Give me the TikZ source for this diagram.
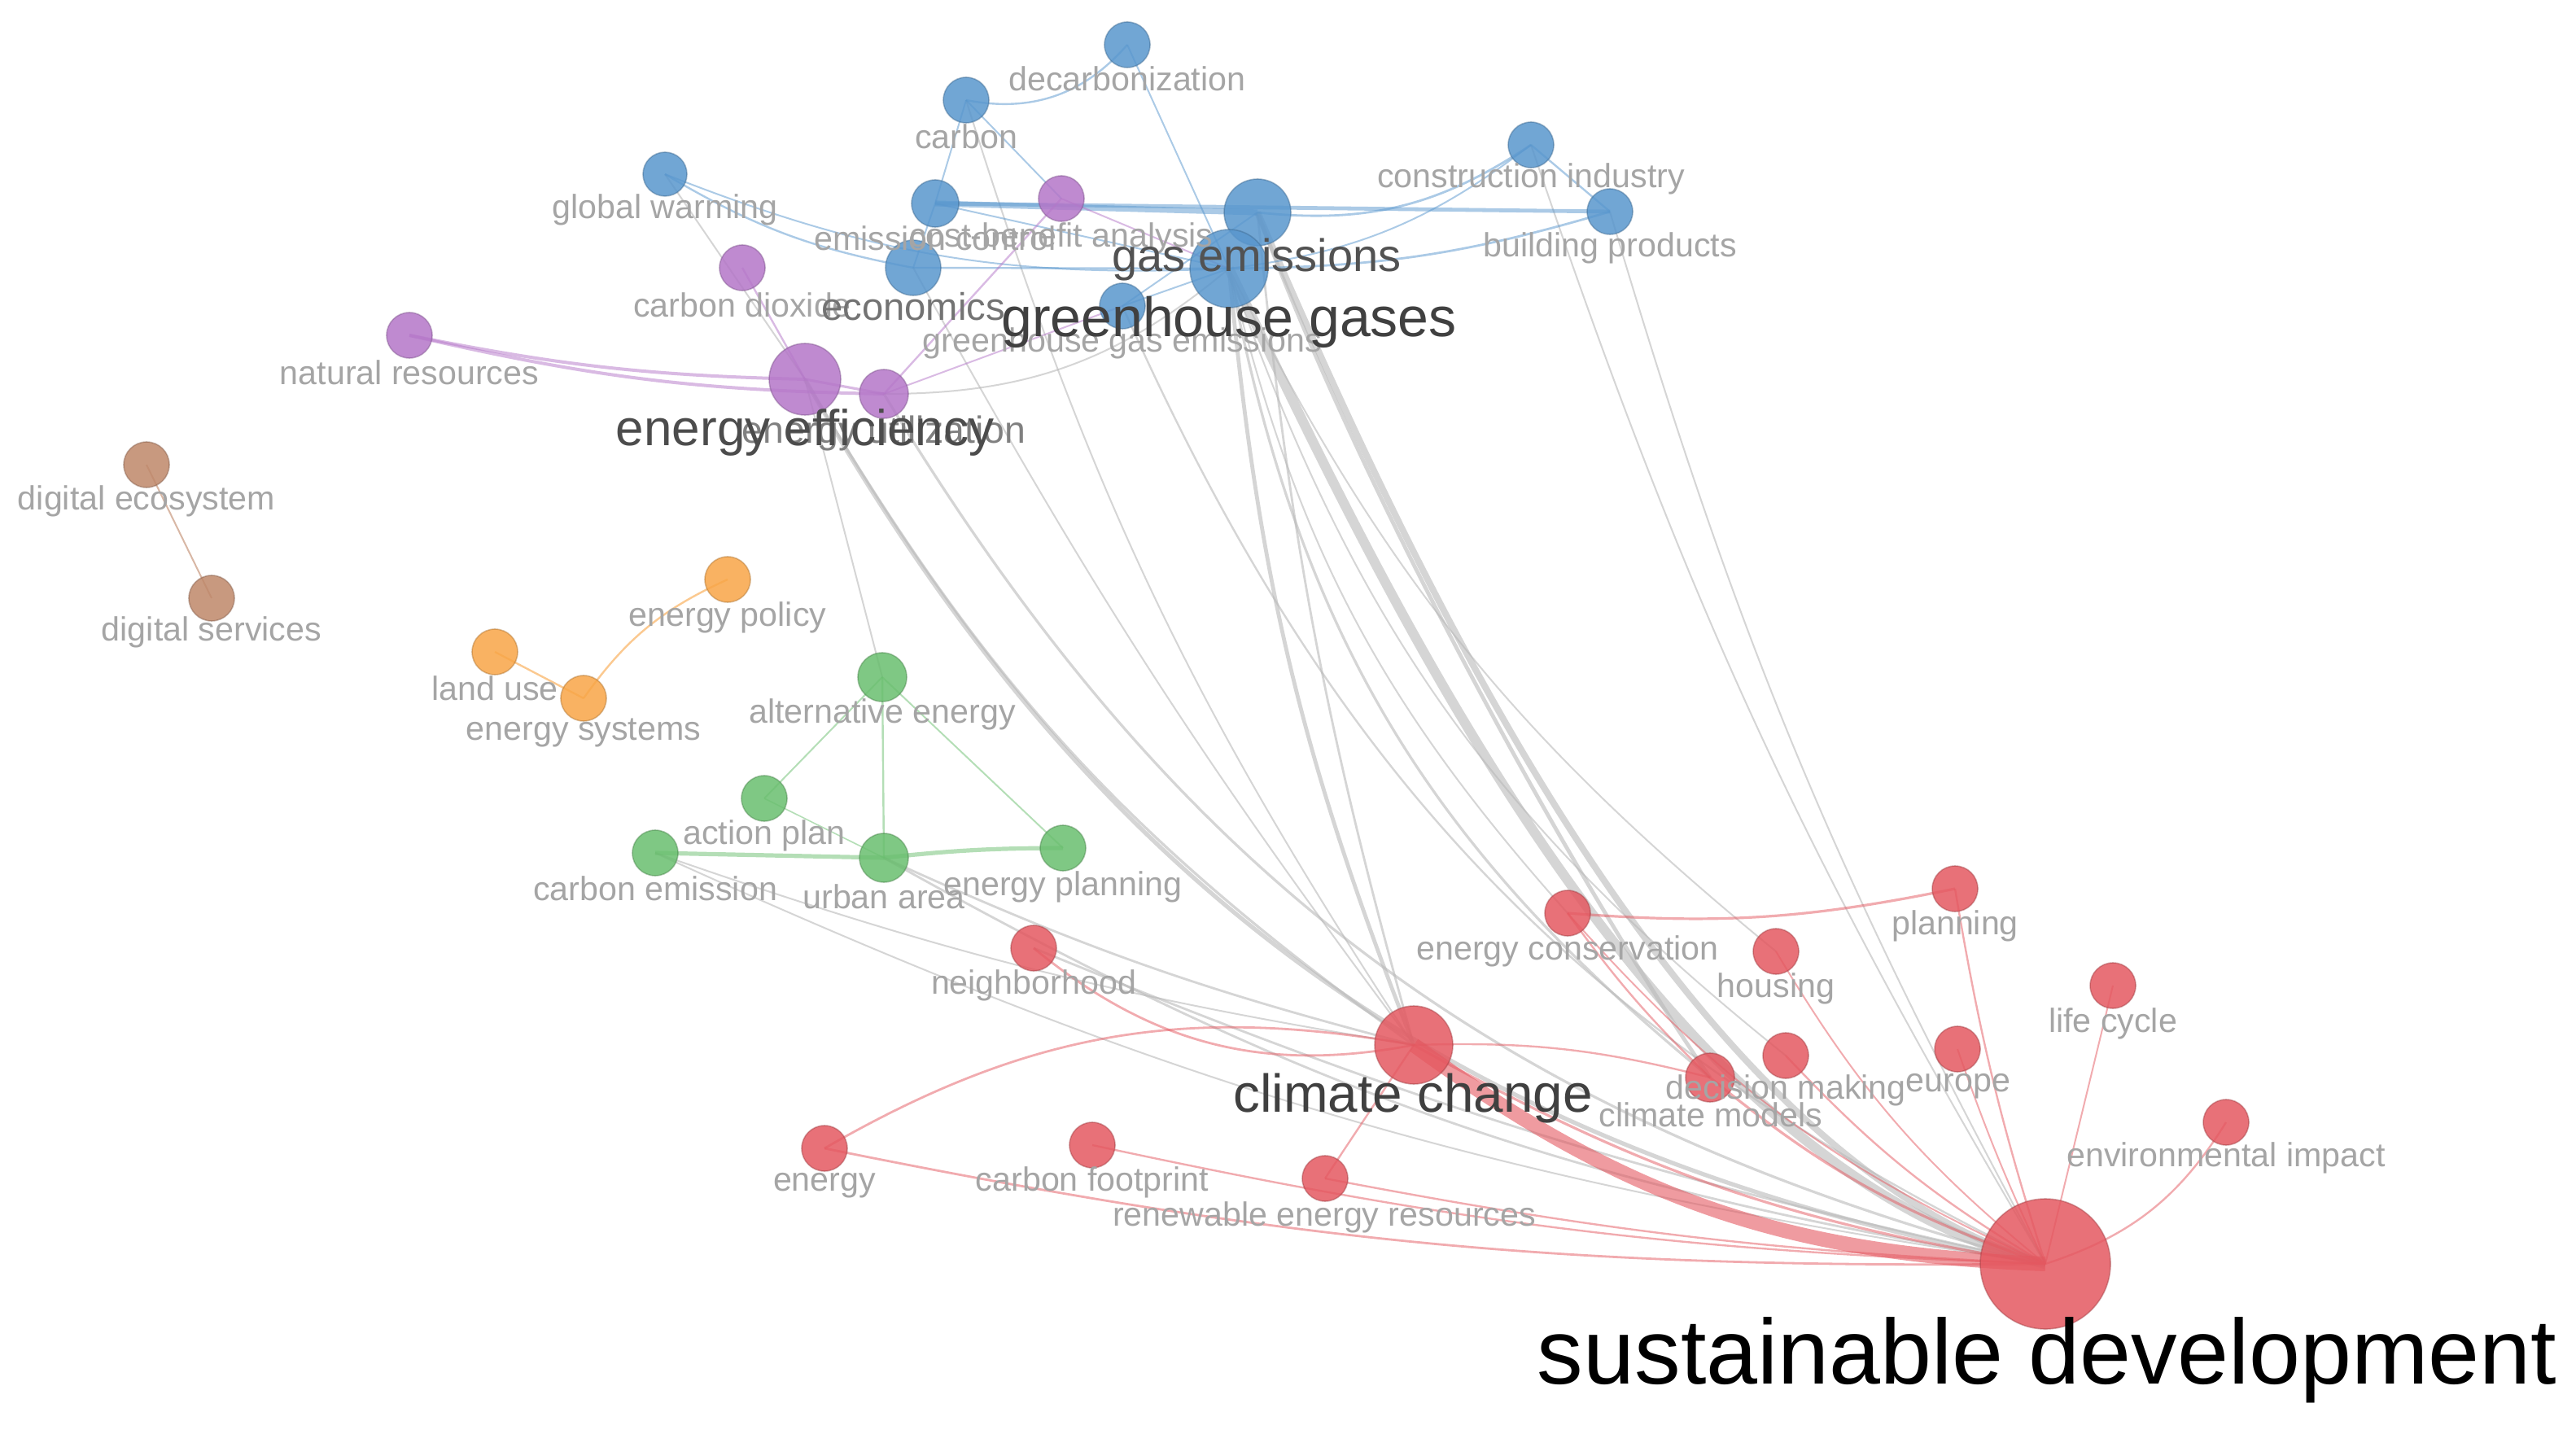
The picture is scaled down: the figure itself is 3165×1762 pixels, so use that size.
\documentclass[tikz,border=0pt]{standalone}
\usepackage{fontspec}
\setmainfont{Liberation Sans}
\pgfdeclarelayer{edges}
\pgfsetlayers{edges,main}
\definecolor{cblue}{RGB}{88,150,205}
\definecolor{cpurp}{RGB}{180,118,200}
\definecolor{cbrown}{RGB}{190,135,105}
\definecolor{corange}{RGB}{248,165,70}
\definecolor{cgreen}{RGB}{105,190,110}
\definecolor{cred}{RGB}{228,88,96}
\definecolor{cedge}{RGB}{185,185,185}
\definecolor{ltxt}{RGB}{165,165,165}
\tikzset{
  kw/.style={circle, inner sep=0pt, minimum size=#1, line width=0.4pt, fill opacity=0.85, draw opacity=0.45},
  kb/.style={kw=#1, fill=cblue, draw=cblue!70!black},
  kp/.style={kw=#1, fill=cpurp, draw=cpurp!70!black},
  kbr/.style={kw=#1, fill=cbrown, draw=cbrown!70!black},
  ko/.style={kw=#1, fill=corange, draw=corange!70!black},
  kg/.style={kw=#1, fill=cgreen, draw=cgreen!70!black},
  kr/.style={kw=#1, fill=cred, draw=cred!70!black},
  lab/.style={inner sep=0pt, text=ltxt, font=\fontsize{10.3}{12}\selectfont},
  labm/.style={inner sep=0pt, text=black!55, font=\fontsize{11.8}{14}\selectfont},
  eg/.style={draw=cedge, draw opacity=0.6, line width=#1},
  eg/.default=0.5pt,
  eb/.style={draw=cblue, draw opacity=0.5, line width=#1},
  eb/.default=0.5pt,
  ep/.style={draw=cpurp, draw opacity=0.5, line width=#1},
  ep/.default=0.5pt,
  egr/.style={draw=cgreen, draw opacity=0.5, line width=#1},
  egr/.default=0.5pt,
  eo/.style={draw=corange, draw opacity=0.6, line width=#1},
  eo/.default=0.5pt,
  ebr/.style={draw=cbrown, draw opacity=0.6, line width=#1},
  ebr/.default=0.5pt,
  er/.style={draw=cred, draw opacity=0.5, line width=#1},
  er/.default=0.5pt,
}
\begin{document}
\begin{tikzpicture}[x=0.25pt,y=-0.25pt]
\useasboundingbox (0,0) rectangle (3165,1762);
% ---------- nodes ----------
\node[kb=14pt] (decarb) at (1385,55) {};
\node[kb=14pt] (carbon) at (1187,123) {};
\node[kb=14pt] (constr) at (1881,178) {};
\node[kb=13.5pt] (globalw) at (817,214) {};
\node[kb=14.5pt] (emiss) at (1149,250) {};
\node[kp=14pt] (costben) at (1304,244) {};
\node[kb=20.5pt] (gasem) at (1545,261) {};
\node[kb=14pt] (buildp) at (1978,260) {};
\node[kb=17pt] (econ) at (1122,329) {};
\node[kb=24pt] (ghg) at (1510,330) {};
\node[kb=14pt] (ghge) at (1379,376) {};
\node[kp=14pt] (co2) at (912,329) {};
\node[kp=14pt] (natres) at (503,412) {};
\node[kp=22pt] (eneff) at (989,466) {};
\node[kp=15pt] (eneutil) at (1086,484) {};
\node[kbr=14pt] (digeco) at (180,571) {};
\node[kbr=14pt] (digserv) at (260,735) {};
\node[ko=14pt] (enpol) at (894,712) {};
\node[ko=14pt] (landuse) at (608,801) {};
\node[ko=14pt] (ensys) at (717,858) {};
\node[kg=15pt] (altene) at (1084,832) {};
\node[kg=14pt] (actplan) at (939,981) {};
\node[kg=14pt] (carbemi) at (805,1048) {};
\node[kg=15pt] (urban) at (1086,1054) {};
\node[kg=14pt] (enplan) at (1306,1042) {};
\node[kr=14pt] (encons) at (1926,1122) {};
\node[kr=14pt] (planning) at (2402,1092) {};
\node[kr=14pt] (neigh) at (1270,1165) {};
\node[kr=14pt] (housing) at (2182,1169) {};
\node[kr=14pt] (lifecyc) at (2596,1211) {};
\node[kr=24pt] (cc) at (1737,1284) {};
\node[kr=14pt] (decmak) at (2194,1297) {};
\node[kr=15pt] (climmod) at (2101,1324) {};
\node[kr=14pt] (europe) at (2405,1289) {};
\node[kr=14pt] (envimp) at (2735,1379) {};
\node[kr=14pt] (energy) at (1013,1411) {};
\node[kr=14pt] (carbfoot) at (1342,1407) {};
\node[kr=14pt] (renew) at (1628,1448) {};
\node[kr=40pt] (sd) at (2513,1553) {};
% ---------- edges ----------
\begin{pgfonlayer}{edges}
% gray links between clusters
\draw[eg=3pt] (ghg.center) .. controls (1704,734) and (2028,1433) .. (sd.center);
\draw[eg=2pt] (gasem.center) .. controls (1730,690) and (2060,1420) .. (sd.center);
\draw[eg=1.2pt] (gasem.center) .. controls (1690,650) and (1960,1120) .. (climmod.center);
\draw[eg=1.2pt] (ghg.center) to[bend right=8] (cc.center);
\draw[eg=0.7pt] (gasem.center) to[bend right=5] (cc.center);
\draw[eg] (ghg.center) to[bend right=14] (encons.center);
\draw[eg] (ghg.center) to[bend right=12] (housing.center);
\draw[eg] (ghg.center) to[bend right=16] (decmak.center);
\draw[eg=0.8pt] (ghg.center) to[bend right=20] (climmod.center);
\draw[eg] (constr.center) to[bend right=6] (sd.center);
\draw[eg] (buildp.center) to[bend right=6] (sd.center);
\draw[eg] (carbon.center) to[bend right=8] (cc.center);
\draw[eg] (econ.center) to[bend right=4] (cc.center);
\draw[eg=0.6pt] (ghge.center) to[bend right=20] (sd.center);
\draw[eg=1.3pt] (eneff.center) to[bend right=25] (sd.center);
\draw[eg=0.8pt] (eneff.center) to[bend right=12] (cc.center);
\draw[eg=0.8pt] (eneutil.center) to[bend right=22] (sd.center);
\draw[eg] (altene.center) -- (eneff.center);
\draw[eg] (globalw.center) -- (eneff.center);
\draw[eg] (eneutil.center) to[bend right=20] (ghg.center);
\draw[eg=0.7pt] (urban.center) to[bend right=5] (cc.center);
\draw[eg=0.7pt] (urban.center) to[bend right=10] (sd.center);
\draw[eg] (carbemi.center) to[bend right=5] (cc.center);
\draw[eg] (carbemi.center) to[bend right=8] (sd.center);
\draw[eg=0.7pt] (neigh.center) to[bend right=5] (sd.center);
% blue
\draw[eb=0.6pt] (carbon.center) to[bend right=30] (decarb.center);
\draw[eb] (carbon.center) -- (emiss.center);
\draw[eb] (carbon.center) -- (costben.center);
\draw[eb] (decarb.center) -- (ghg.center);
\draw[eb=0.6pt] (globalw.center) to[bend right=10] (econ.center);
\draw[eb] (globalw.center) to[bend right=12] (ghg.center);
\draw[eb=1.8pt] (emiss.center) -- (gasem.center);
\draw[eb=1.2pt] (emiss.center) -- (buildp.center);
\draw[eb=0.7pt] (gasem.center) to[bend right=20] (constr.center);
\draw[eb] (ghg.center) to[bend right=15] (constr.center);
\draw[eb=0.7pt] (ghg.center) to[bend right=8] (buildp.center);
\draw[eb=0.6pt] (constr.center) -- (buildp.center);
\draw[eb] (emiss.center) -- (ghg.center);
\draw[eb=0.6pt] (econ.center) -- (ghg.center);
\draw[eb] (econ.center) -- (emiss.center);
\draw[eb] (ghge.center) -- (gasem.center);
\draw[eb] (ghge.center) -- (ghg.center);
% purple
\draw[ep=1pt] (natres.center) to[bend right=5] (eneff.center);
\draw[ep=1pt] (natres.center) to[bend right=6] (eneutil.center);
\draw[ep=0.6pt] (co2.center) -- (eneff.center);
\draw[ep=0.8pt] (eneff.center) -- (eneutil.center);
\draw[ep=0.6pt] (costben.center) -- (eneutil.center);
\draw[ep] (costben.center) -- (ghg.center);
\draw[ep] (eneutil.center) -- (ghge.center);
% brown, orange
\draw[ebr] (digeco.center) -- (digserv.center);
\draw[eo=0.6pt] (landuse.center) -- (ensys.center);
\draw[eo=0.6pt] (ensys.center) to[bend left=15] (enpol.center);
% green
\draw[egr] (altene.center) -- (actplan.center);
\draw[egr=0.6pt] (altene.center) -- (urban.center);
\draw[egr] (altene.center) -- (enplan.center);
\draw[egr=1.3pt] (carbemi.center) -- (urban.center);
\draw[egr=1.3pt] (urban.center) to[bend left=3] (enplan.center);
\draw[egr=0.4pt] (actplan.center) -- (urban.center);
% red
\draw[er=0.7pt] (neigh.center) to[bend right=25] (cc.center);
\draw[er=0.7pt] (energy.center) to[bend left=20] (cc.center);
\draw[er=0.7pt] (energy.center) to[bend right=6] (sd.center);
\draw[er=0.6pt] (carbfoot.center) to[bend right=5] (sd.center);
\draw[er=0.6pt] (renew.center) -- (cc.center);
\draw[er=0.6pt] (renew.center) to[bend right=4] (sd.center);
\draw[draw=cred, draw opacity=0.6, line width=4.5pt] (cc.center) to[bend right=17] (sd.center);
\draw[er=0.8pt] (cc.center) to[bend right=10] (sd.center);
\draw[er=0.6pt] (cc.center) to[bend left=8] (climmod.center);
\draw[er=0.8pt] (encons.center) to[bend right=8] (planning.center);
\draw[er=0.6pt] (encons.center) to[bend right=5] (climmod.center);
\draw[er] (encons.center) to[bend right=12] (sd.center);
\draw[er] (housing.center) to[bend right=10] (sd.center);
\draw[er=0.6pt] (decmak.center) to[bend right=8] (sd.center);
\draw[er=0.8pt] (climmod.center) to[bend right=10] (sd.center);
\draw[er=0.6pt] (planning.center) to[bend right=4] (sd.center);
\draw[er] (europe.center) to[bend right=3] (sd.center);
\draw[er] (lifecyc.center) -- (sd.center);
\draw[er=0.6pt] (envimp.center) to[bend left=20] (sd.center);
\end{pgfonlayer}
% ---------- labels ----------
\node[lab] (l-decarb) at (1385,97) {decarbonization};
\node[lab] (l-carbon) at (1187,168) {carbon};
\node[lab] (l-constr) at (1881,220) {construction industry};
\node[lab] (l-globalw) at (817,258) {global warming};
\node[lab] (l-emiss) at (1149,293) {emission control};
\node[lab] (l-costben) at (1304,293) {cost-benefit analysis};
\node[lab] (l-buildp) at (1978,305) {building products};
\node[lab] (l-co2) at (912,375) {carbon dioxide};
\node[lab] (l-ghge) at (1379,422) {greenhouse gas emissions};
\node[lab] (l-natres) at (503,458) {natural resources};
\node[inner sep=0pt, text=black!50, font=\fontsize{11.6}{14}\selectfont] (l-eneutil) at (1086,533) {energy utilization};
\node[labm] (l-econ) at (1122,377) {economics};
\node[inner sep=0pt, text=black!68, font=\fontsize{14}{17}\selectfont] (l-gasem) at (1544,319) {gas emissions};
\node[inner sep=0pt, text=black!75, font=\fontsize{17}{20}\selectfont] (l-ghg) at (1510,396) {greenhouse gases};
\node[inner sep=0pt, text=black!70, font=\fontsize{15.5}{18}\selectfont] (l-eneff) at (989,531) {energy efficiency};
\node[lab] (l-digeco) at (180,616) {digital ecosystem};
\node[lab] (l-digserv) at (260,777) {digital services};
\node[lab] (l-enpol) at (894,759) {energy policy};
\node[lab] (l-landuse) at (608,846) {land use};
\node[lab] (l-ensys) at (717,900) {energy systems};
\node[lab] (l-altene) at (1084,878) {alternative energy};
\node[lab] (l-actplan) at (939,1027) {action plan};
\node[lab] (l-carbemi) at (805,1092) {carbon emission};
\node[lab] (l-urban) at (1086,1102) {urban area};
\node[lab] (l-enplan) at (1306,1090) {energy planning};
\node[lab] (l-encons) at (1926,1169) {energy conservation};
\node[lab] (l-planning) at (2402,1138) {planning};
\node[lab] (l-neigh) at (1270,1211) {neighborhood};
\node[lab] (l-housing) at (2182,1215) {housing};
\node[lab] (l-lifecyc) at (2596,1258) {life cycle};
\node[lab] (l-decmak) at (2194,1340) {decision making};
\node[lab] (l-climmod) at (2102,1370) {climate models};
\node[lab] (l-europe) at (2406,1335) {europe};
\node[lab] (l-envimp) at (2735,1423) {environmental impact};
\node[lab] (l-energy) at (1013,1457) {energy};
\node[lab] (l-carbfoot) at (1342,1453) {carbon footprint};
\node[lab] (l-renew) at (1627,1496) {renewable energy resources};
\node[inner sep=0pt, text=black!75, font=\fontsize{16.4}{20}\selectfont] (l-cc) at (1736,1350) {climate change};
\node[inner sep=0pt, text=black, font=\fontsize{28.3}{34}\selectfont] (l-sd) at (2515,1671) {sustainable development};
\end{tikzpicture}
\end{document}
